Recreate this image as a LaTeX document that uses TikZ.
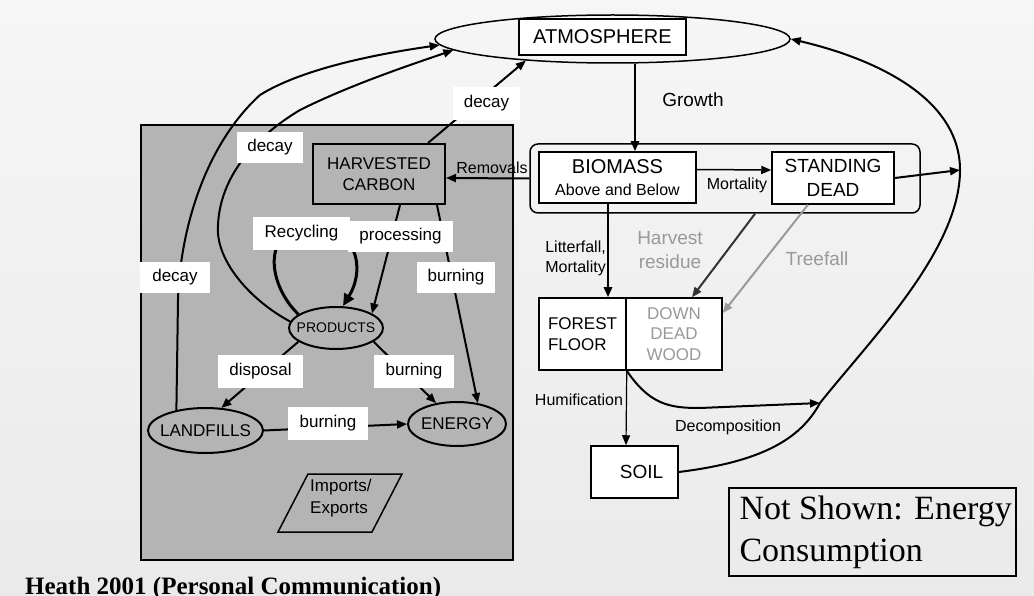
\documentclass[tikz,border=0pt]{standalone}
\usepackage{fontspec}
\setmainfont{Liberation Serif}
\setsansfont{Liberation Sans}
\usetikzlibrary{arrows.meta,shapes.geometric}
\definecolor{bgtop}{HTML}{F6F6F6}
\definecolor{bgbot}{HTML}{EAEAEA}
\definecolor{boxgray}{HTML}{B4B4B4}
\definecolor{midgray}{HTML}{999999}
\definecolor{darkg}{HTML}{333333}
\newcommand{\fsz}[2]{\fontsize{#1}{#2}\selectfont}
\begin{document}
\begin{tikzpicture}[x=1pt,y=-1pt, font=\sffamily,
  tip/.style={-{Triangle[length=10pt,width=8pt]}},
  arr/.style={line width=2pt, tip},
  lbl/.style={fill=white, inner sep=0pt, font=\sffamily\fsz{17}{20}},
  sbox/.style={draw, line width=1.5pt, inner sep=0pt},
  ell/.style={ellipse, draw, line width=2pt, inner sep=0pt},
]
\useasboundingbox (0,0) rectangle (1034,596);
\shade[top color=bgtop,bottom color=bgbot] (0,0) rectangle (1034,596);

% wood products panel
\node[draw, line width=2pt, fill=boxgray, minimum width=372pt, minimum height=435pt, inner sep=0pt] (wood) at (327,342.5) {};

% atmosphere
\node[ell, line width=1.5pt, minimum width=355pt, minimum height=48pt] (atmE) at (612.5,39) {};
\node[sbox, fill=white, minimum width=167pt, minimum height=36pt, font=\sffamily\fsz{20}{24}] (atm) at (602.5,37) {ATMOSPHERE};

% live pools
\node[draw, line width=1.5pt, rounded corners=8pt, minimum width=390pt, minimum height=69pt] (live) at (725,178.5) {};
\node[sbox, fill=white, minimum width=157pt, minimum height=51pt, align=center, font=\sffamily\fsz{20}{22}] (bio) at (617.5,177.5) {BIOMASS\\\fsz{16}{22}Above and Below};
\node[sbox, fill=white, minimum width=122pt, minimum height=52pt, align=center, font=\sffamily\fsz{19}{24}] (sd) at (833,178) {STANDING\\DEAD};

% dead pools
\node[sbox, fill=white, minimum width=87pt, minimum height=72pt, align=left, font=\sffamily\fsz{17}{21}] (ff) at (582.5,334) {FOREST\\FLOOR};
\node[sbox, fill=white, minimum width=96pt, minimum height=72pt, align=center, text=midgray, font=\sffamily\fsz{17}{20.5}] (ddw) at (674,334) {DOWN\\DEAD\\WOOD};
\node[sbox, fill=white, minimum width=87pt, minimum height=52pt, font=\sffamily\fsz{19}{22}] (soil) at (634.5,472) {\hspace*{14pt}SOIL};

% note and caption
\node[draw, line width=2pt, minimum width=287pt, minimum height=88pt, inner xsep=10.5pt, inner ysep=0pt, align=left, font=\rmfamily\fsz{34}{42}] (note) at (872.5,532) {\makebox[266pt][l]{Not Shown: Energy}\\Consumption};
\node[anchor=base west, inner sep=0pt, font=\rmfamily\bfseries\fsz{25}{30}] (cap) at (25,594) {Heath 2001 (Personal Communication)};

% harvested wood
\node[draw, line width=2pt, fill=boxgray, minimum width=132pt, minimum height=60pt, align=center, font=\sffamily\fsz{17}{21}] (hc) at (379,174) {HARVESTED\\CARBON};
\node[ell, minimum width=94pt, minimum height=42pt, font=\sffamily\fsz{14}{16}] (prod) at (336,328) {\makebox[0pt]{PRODUCTS}};
\node[ell, minimum width=115pt, minimum height=45pt, font=\sffamily\fsz{17}{20}] (lf) at (205.5,430.5) {\makebox[0pt]{LANDFILLS}};
\node[ell, minimum width=98pt, minimum height=44pt, font=\sffamily\fsz{17}{20}] (en) at (457,424) {\makebox[0pt]{ENERGY}};
\draw[line width=1.5pt] (278,532) -- (308,474) -- (402,474) -- (372,532) -- cycle;
\node[anchor=west, align=left, inner sep=0pt, font=\sffamily\fsz{17}{22}] (imp) at (310,498) {Imports/\\Exports};

% connectors, forest side
\draw[arr, line width=2.5pt] ([xshift=22.5pt]atmE.south) -- ([xshift=17.5pt]bio.north);
\node[font=\sffamily\fsz{19}{22}] (lgrowth) at (693,100) {Growth};
\draw[arr, line width=1.5pt] ([yshift=8pt]bio.east) -- ([yshift=8pt]sd.west);
\node[font=\sffamily\fsz{16}{20}] (lmort) at (737,185) {Mortality};
\coordinate (bigA) at (820,403);
\coordinate (bigB) at (960,170);
\draw[arr] (sd.east) -- (bigB);
\draw[arr] (soil.east) .. controls (760,462) and (800,440) .. (bigA) .. controls (870,340) and (960,250) .. (bigB) .. controls (960,100) and (880,60) .. (atmE.east);
\draw[arr] (ff.south east) .. controls (650,405) and (670,408) .. (700,408) -- (bigA);
\node[font=\sffamily\fsz{16}{20}] (ldec) at (728,427) {Decomposition};
\draw[line width=1.2pt, tip] (ff.south east) -- ([xshift=-8.5pt]soil.north);
\node[font=\sffamily\fsz{16}{20}] (lhum) at (579,400) {Humification};
\draw[arr, line width=2.5pt] ([xshift=-9.5pt]bio.south) -- ([xshift=25.5pt]ff.north);
\node[anchor=east, align=right, inner sep=0pt, font=\sffamily\fsz{16}{20}] (llit) at (606,258) {Litterfall,\\Mortality};
\draw[arr, darkg] ([xshift=30pt]live.south) -- ([xshift=18pt]ddw.north);
\node[text=midgray, align=center, font=\sffamily\fsz{19}{24}] (lhr) at (670,250) {Harvest\\residue};
\draw[arr, midgray] ([xshift=-25pt]sd.south) -- ([yshift=21pt]ddw.east);
\node[text=midgray, font=\sffamily\fsz{19}{22}] (ltree) at (817,259) {Treefall};
\draw[arr] (live.west) -- ([yshift=-4pt]hc.east);
\node[font=\sffamily\fsz{16}{20}] (lrem) at (492,168) {Removals};

% connectors, harvested side
\draw[arr] ([xshift=49pt]hc.north) -- (atmE.194);
\draw[arr] (lf.145) -- (178,300) .. controls (180,230) and (205,145) .. (260,95) .. controls (300,70) and (370,55) .. (atmE.182);
\draw[arr] (prod.172) .. controls (250,300) and (215,260) .. (218,225) .. controls (220,180) and (250,140) .. (300,110) .. controls (350,85) and (410,65) .. (atmE.184);
\draw[line width=3pt, -{Triangle[length=12pt,width=11pt]}] (prod.160) .. controls (268,285) and (262,232) .. (305,228) .. controls (360,225) and (365,270) .. ([xshift=7pt]prod.north);
\draw[arr] ([xshift=21pt]hc.south) -- (prod.22);
\draw[arr] ([xshift=58pt]hc.south) -- (en.45);
\draw[arr] (prod.200) -- (lf.55);
\draw[arr] (prod.340) -- (en.135);
\draw[arr] (lf.east) -- (en.west);

% white labels
\node[lbl, minimum width=67pt, minimum height=33pt] (ldecay1) at (486.5,103.5) {decay};
\node[lbl, minimum width=66pt, minimum height=31pt] (ldecay2) at (270,147.5) {decay};
\node[lbl, minimum width=70pt, minimum height=31pt] (ldecay3) at (175,277.5) {decay};
\node[lbl, minimum width=97pt, minimum height=33pt] (lrec) at (301.5,233.5) {Recycling};
\node[lbl, minimum width=105pt, minimum height=31pt] (lproc) at (400.5,236.5) {processing};
\node[lbl, minimum width=78pt, minimum height=31pt] (lburn1) at (456,277.5) {burning};
\node[lbl, minimum width=85pt, minimum height=33pt] (ldisp) at (260.5,371.5) {disposal};
\node[lbl, minimum width=80pt, minimum height=33pt] (lburn2) at (414,371.5) {burning};
\node[lbl, minimum width=80pt, minimum height=33pt] (lburn3) at (328,423.5) {burning};
\end{tikzpicture}
\end{document}
